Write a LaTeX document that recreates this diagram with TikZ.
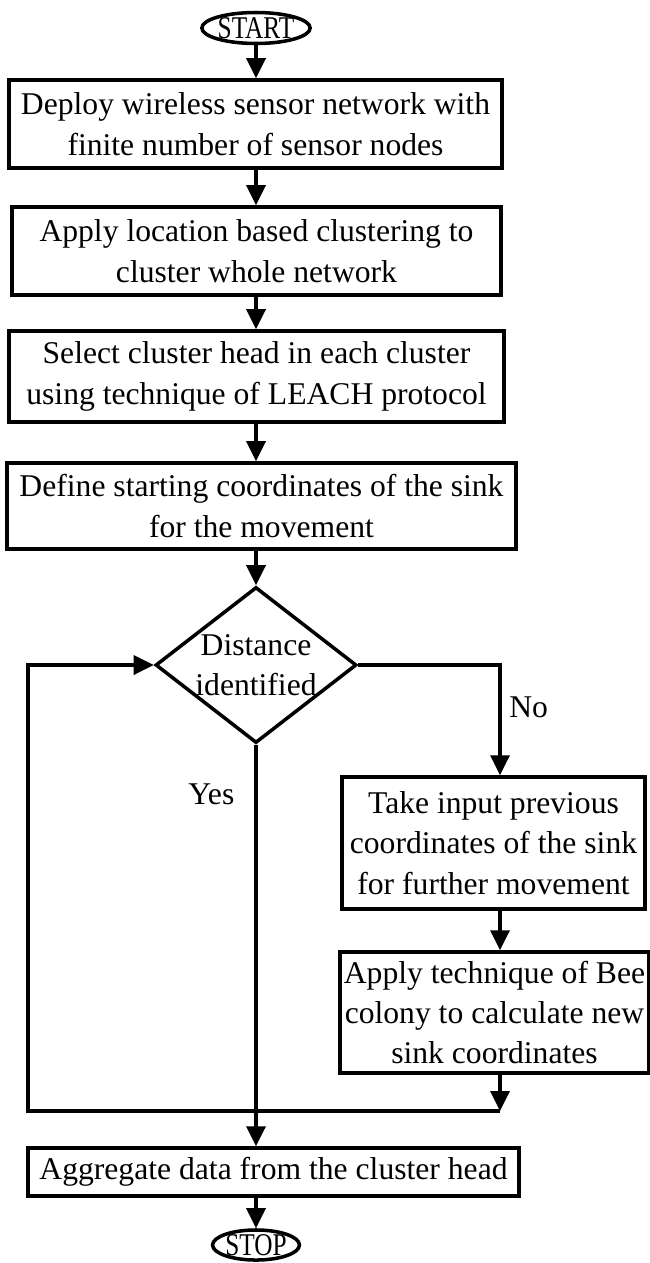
\documentclass[tikz,border=0pt]{standalone}
\usepackage{fontspec}
\setmainfont{Liberation Serif}
\newfontfamily\termfont{Liberation Serif}[FakeStretch=0.8]
\usetikzlibrary{arrows.meta,shapes.geometric}

\begin{document}
\begin{tikzpicture}[font=\fontsize{18}{23}\selectfont,>={Triangle[length=.4cm,width=.38cm]},line width=2pt,
  stepbox/.style={draw,align=center,inner sep=0pt},
  term/.style={draw,ellipse,inner sep=0pt,font=\termfont\fontsize{18}{20}\selectfont},
  decision/.style={draw,diamond,inner sep=0pt,minimum width=4.02cm,minimum height=3.12cm}]
\useasboundingbox (0,0) rectangle (13,-25.26);
\node[term,minimum width=1.98cm,minimum height=.62cm] (start) at (5.12,-.56) {START};
\node[stepbox,minimum width=9.86cm,minimum height=1.76cm] (deploy) at (5.11,-2.48)
  {Deploy wireless sensor network with\\finite number of sensor nodes};
\node[stepbox,minimum width=9.78cm,minimum height=1.76cm] (cluster) at (5.13,-5.02)
  {Apply location based clustering to\\cluster whole network};
\node[stepbox,minimum width=9.9cm,minimum height=1.82cm] (head) at (5.13,-7.53)
  {Select cluster head in each cluster\\using technique of LEACH protocol};
\node[stepbox,minimum width=10.18cm,minimum height=1.72cm] (define) at (5.23,-10.12)
  {Define starting coordinates of the sink\\for the movement};
\node[decision,label={[align=center]center:Distance\\identified}] (dist) at (5.12,-13.3) {};
\node[stepbox,minimum width=6.06cm,minimum height=2.64cm] (prev) at (9.87,-16.86)
  {Take input previous\\coordinates of the sink\\for further movement};
\node[stepbox,minimum width=6.18cm,minimum height=2.42cm] (bee) at (9.89,-20.25)
  {Apply technique of Bee\\colony to calculate new\\sink coordinates};
\node[stepbox,minimum width=9.82cm,minimum height=.96cm] (aggr) at (5.47,-23.44)
  {Aggregate data from the cluster head};
\node[term,minimum width=1.48cm,minimum height=.6cm] (stop) at (5.12,-24.9) {STOP};
\coordinate (join) at (10.0,-22.22);
\coordinate (loop) at (.56,-22.22);
% main column
\draw[->] (start.south -| dist) -- (deploy.north -| dist);
\draw[->] (deploy.south -| dist) -- (cluster.north -| dist);
\draw[->] (cluster.south -| dist) -- (head.north -| dist);
\draw[->] (head.south -| dist) -- (define.north -| dist);
\draw[->] (define.south -| dist) -- (dist.north);
% no branch and loop back
\draw[->] (dist.east) -| node[pos=.69,right=1pt] {No} (join |- prev.north);
\draw[->] (prev.south -| join) -- (bee.north -| join);
\draw[->] (bee.south -| join) -- (join);
\draw[->] (join) -- (loop) |- (dist.west);
% yes branch
\draw[->] (dist.south) -- node[pos=.123,left=8pt] {Yes} (dist.south |- aggr.north);
\draw[->] (aggr.south -| stop) -- (stop);
\end{tikzpicture}
\end{document}
